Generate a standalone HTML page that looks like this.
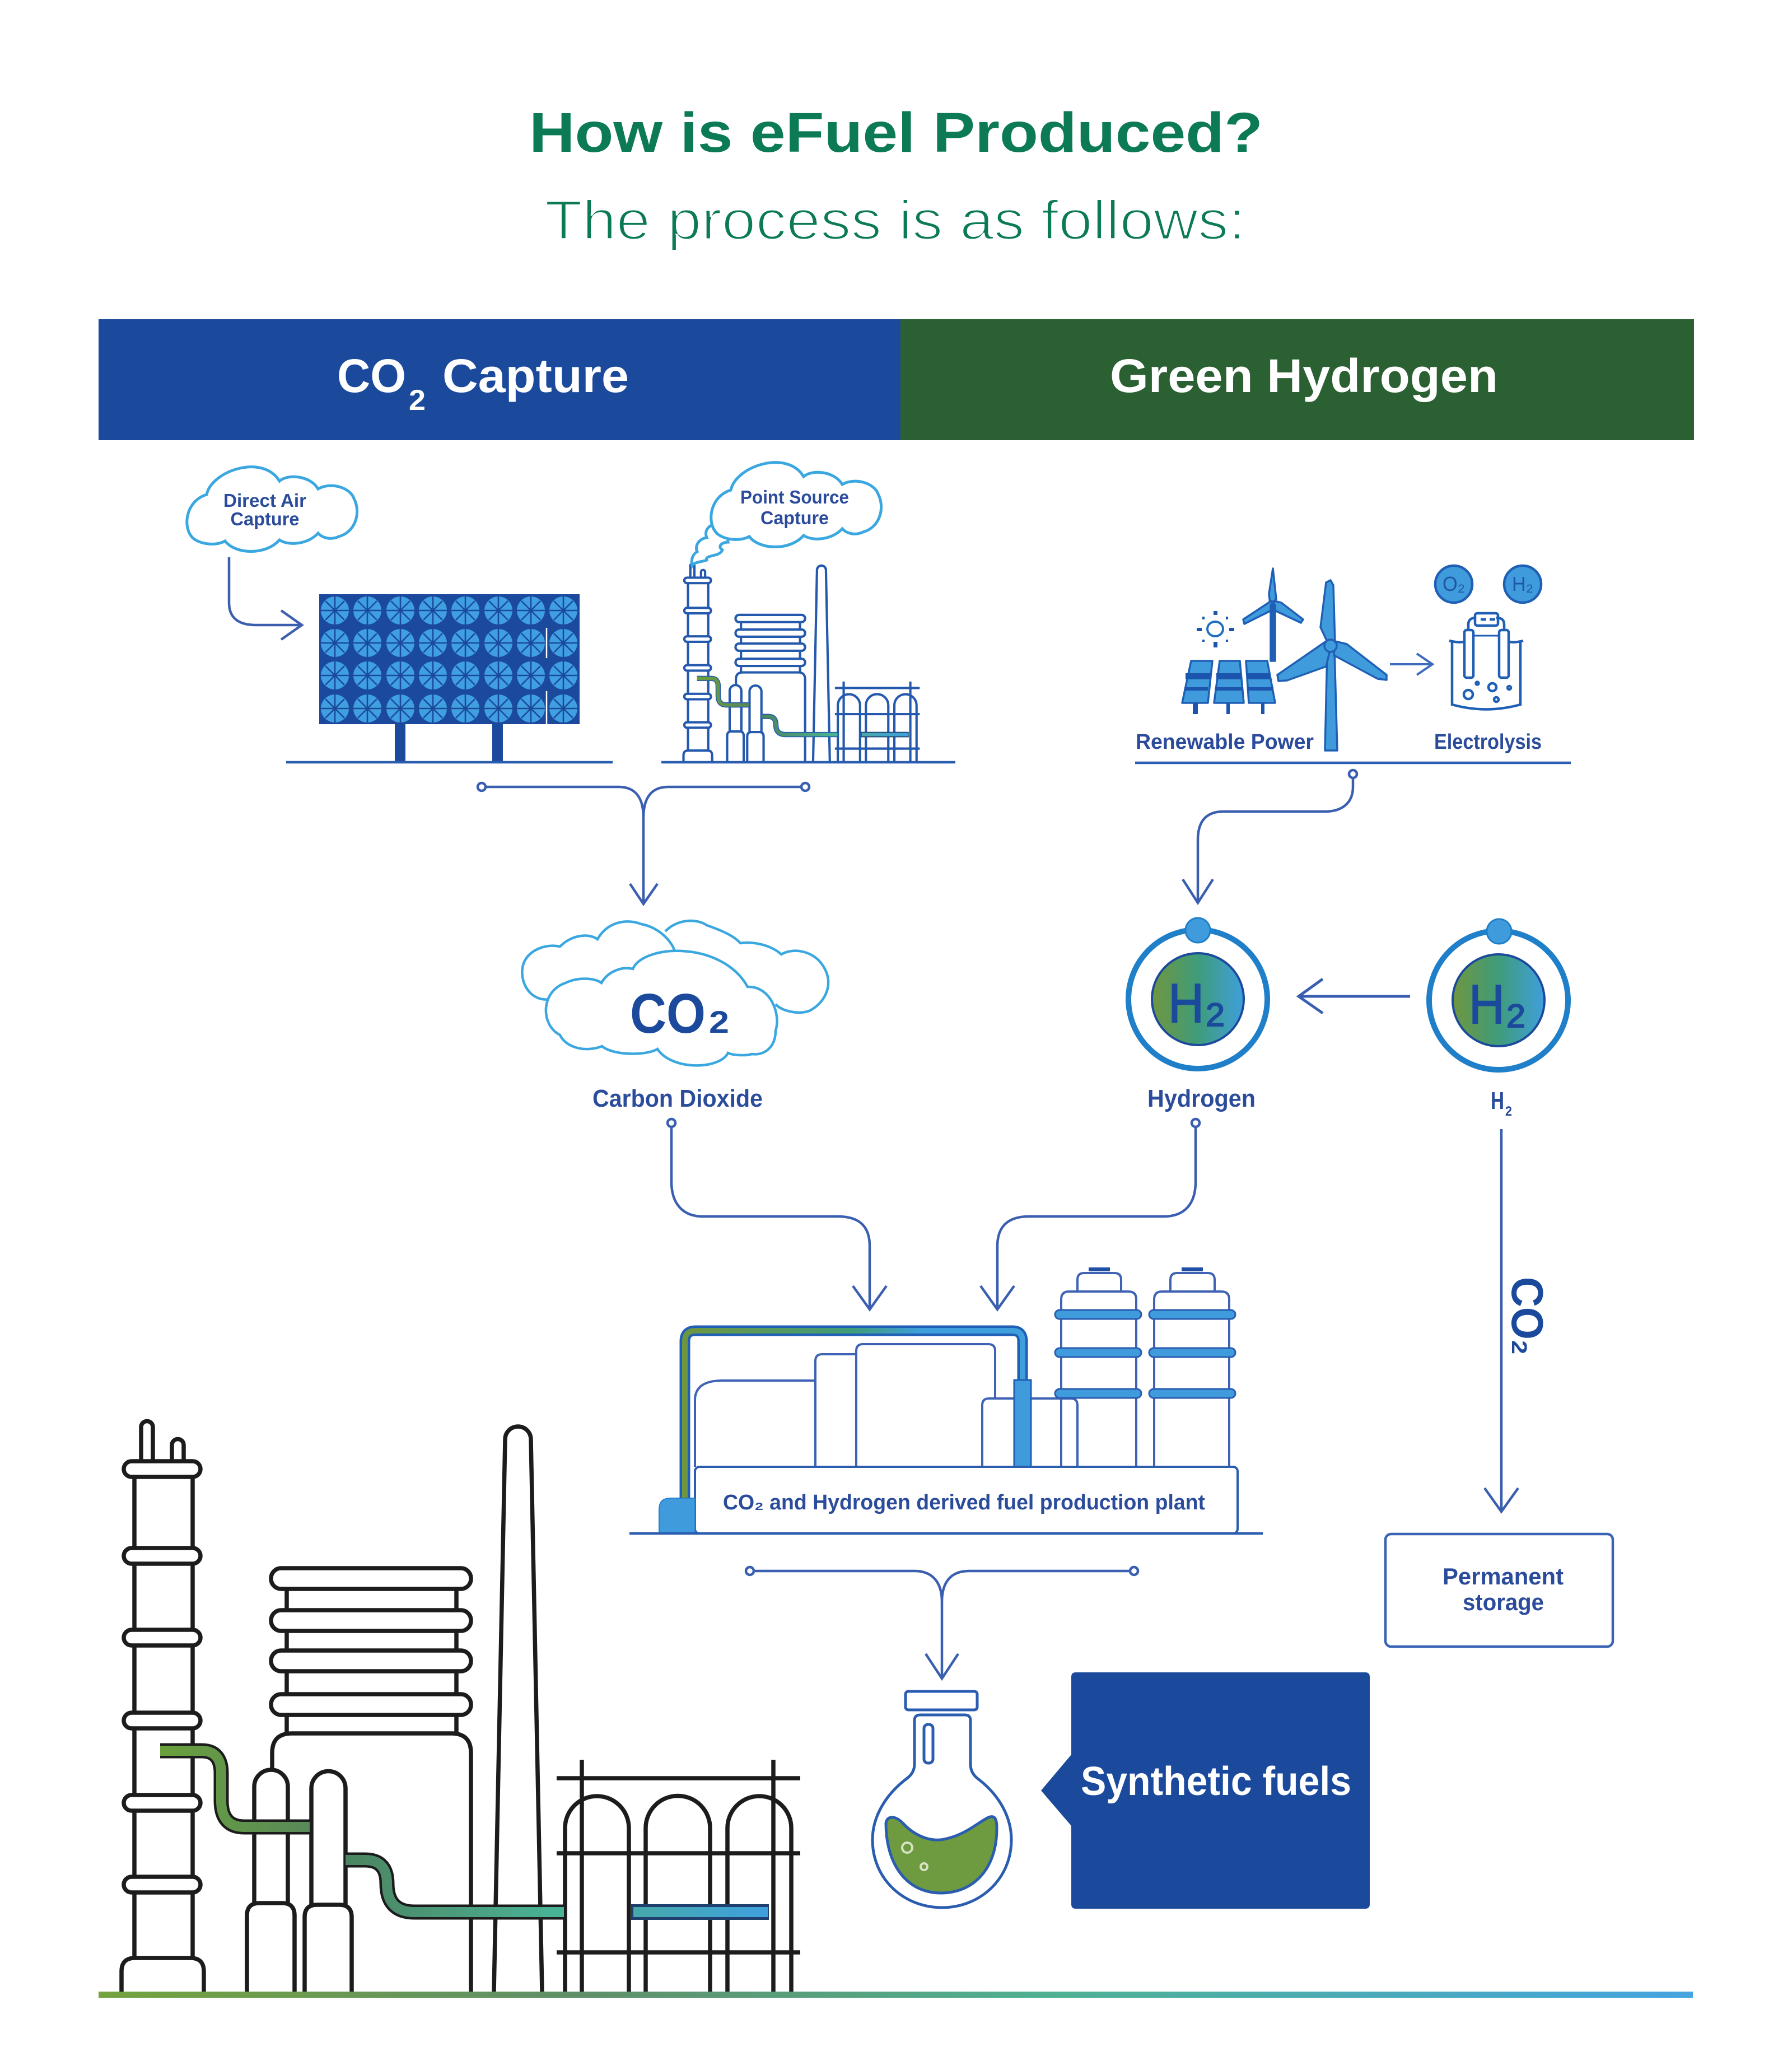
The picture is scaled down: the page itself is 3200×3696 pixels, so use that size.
<!DOCTYPE html>
<html><head><meta charset="utf-8"><title>How is eFuel Produced?</title>
<style>html,body{margin:0;padding:0;background:#fff}svg{display:block}text{font-family:"Liberation Sans",sans-serif}</style></head>
<body>
<svg xmlns="http://www.w3.org/2000/svg" width="3200" height="3696" viewBox="0 0 3200 3696">
<defs>
<linearGradient id="bar" x1="0" x2="1" y1="0" y2="0"><stop offset="0" stop-color="#74a33f"/><stop offset=".3" stop-color="#5f8f68"/><stop offset=".6" stop-color="#4fb193"/><stop offset="1" stop-color="#46a4e0"/></linearGradient>
<linearGradient id="h2g" x1="0" x2="1" y1="0" y2="0"><stop offset="0" stop-color="#6f963f"/><stop offset=".5" stop-color="#3f9c7a"/><stop offset="1" stop-color="#3f9fdc"/></linearGradient>
<linearGradient id="p1" gradientUnits="userSpaceOnUse" x1="286" x2="553" y1="0" y2="0"><stop offset="0" stop-color="#6aa03c"/><stop offset="1" stop-color="#58895a"/></linearGradient>
<linearGradient id="p2" gradientUnits="userSpaceOnUse" x1="617" x2="1007" y1="0" y2="0"><stop offset="0" stop-color="#4c8460"/><stop offset="1" stop-color="#49b498"/></linearGradient>
<linearGradient id="p3" gradientUnits="userSpaceOnUse" x1="1127" x2="1373" y1="0" y2="0"><stop offset="0" stop-color="#46a9a8"/><stop offset="1" stop-color="#3fa0e0"/></linearGradient>
<linearGradient id="pp" gradientUnits="userSpaceOnUse" x1="1215" x2="1831" y1="0" y2="0"><stop offset="0" stop-color="#6f963f"/><stop offset=".5" stop-color="#3f9c7a"/><stop offset=".7" stop-color="#3f9fdc"/></linearGradient>
<g id="fan"><circle r="25" fill="#3f9fe0"/><path d="M0-25V25M-25 0H25M-17-17L17 17M-17 17L17-17" stroke="#1b4a9c" stroke-width="2.600" fill="none"/></g>
<path id="cloud" fill="#fff" stroke="#3aa7e0" stroke-width="5" d="M369 883C378 840 470 810 499 859C515 845 555 850 568 873C590 860 625 870 632 890C645 915 635 950 605 958C590 965 575 960 568 952C550 972 515 975 499 964C475 992 420 990 402 966C385 975 360 972 346 962C325 945 330 895 369 883Z"/>
<g id="fac" fill="none">
<path d="M252 2609V2548a10.500 10.500 0 0 1 21 0V2609M307 2609V2580a10.500 10.500 0 0 1 21 0V2609"/>
<path d="M240 2637V3496M344 2637V3496"/>
<path d="M217 3556V3520Q217 3496 241 3496H340Q364 3496 364 3520V3556" />
<g fill="#fff"><rect x="221" y="2609" width="137" height="28" rx="14"/><rect x="221" y="2764" width="137" height="28" rx="14"/><rect x="221" y="2910" width="137" height="28" rx="14"/><rect x="221" y="3058" width="137" height="28" rx="14"/><rect x="221" y="3205" width="137" height="28" rx="14"/><rect x="221" y="3351" width="137" height="28" rx="14"/></g>
<path d="M512 2837V3095M815 2837V3095"/>
<path d="M486 3160V3130Q486 3095 521 3095H806Q841 3095 841 3130V3556"/>
<g fill="#fff"><rect x="484" y="2800" width="357" height="37" rx="18"/><rect x="484" y="2875" width="357" height="37" rx="18"/><rect x="484" y="2947" width="357" height="37" rx="18"/><rect x="484" y="3025" width="357" height="37" rx="18"/></g>
<path d="M882 3556L902 2570a23 23 0 0 1 46 0L968 3556"/>
<path d="M454 3398V3190a30 30 0 0 1 60 0V3398M441 3556V3420Q441 3398 463 3398H504Q526 3398 526 3420V3556"/>
<path d="M556 3401V3193a30.500 30.500 0 0 1 61 0V3401M544 3556V3423Q544 3401 566 3401H606Q628 3401 628 3423V3556"/>
<path d="M1009 3556V3264A57 57 0 0 1 1123 3264V3556M1153 3556V3264A57.500 57.500 0 0 1 1268 3264V3556M1299 3556V3264A57 57 0 0 1 1413 3264V3556"/>
<path d="M994 3175H1429M994 3309H1429M994 3486H1429M1039 3142V3556M1381 3142V3556"/>
<path d="M286 3126H360Q395 3126 395 3166V3215Q395 3262 436 3262H553" stroke-width="27"/>
<path d="M286 3126H360Q395 3126 395 3166V3215Q395 3262 436 3262H553" stroke="url(#p1)" stroke-width="18"/>
<path d="M617 3321H652Q691 3321 691 3363Q691 3414 740 3414H1007" stroke-width="27"/>
<path d="M617 3321H652Q691 3321 691 3363Q691 3414 740 3414H1007" stroke="url(#p2)" stroke-width="18"/>
<rect x="1127" y="3400" width="246" height="28" fill="#1f3f6e" stroke="none"/><rect x="1131" y="3405" width="240" height="18" fill="url(#p3)" stroke="none"/>
</g>
</defs>
<rect width="3200" height="3696" fill="#fff"/>

<!-- Titles -->
<text x="945" y="271" font-size="100" font-weight="700" fill="#0b7a55" textLength="1310" lengthAdjust="spacingAndGlyphs">How is eFuel Produced?</text>
<text x="973" y="427" font-size="98" fill="#0b7a55" stroke="#fff" stroke-width="3" textLength="1251" lengthAdjust="spacingAndGlyphs">The process is as follows:</text>

<!-- Header -->
<rect x="176" y="570" width="1432" height="216" fill="#1b4a9c"/>
<rect x="1608" y="570" width="1417" height="216" fill="#2a6032"/>
<g fill="#fff" font-weight="700">
<text x="602" y="700" font-size="84" textLength="123" lengthAdjust="spacingAndGlyphs">CO</text>
<text x="730" y="732" font-size="52" textLength="30" lengthAdjust="spacingAndGlyphs">2</text>
<text x="790" y="700" font-size="84" textLength="333" lengthAdjust="spacingAndGlyphs">Capture</text>
<text x="1982" y="700" font-size="84" textLength="693" lengthAdjust="spacingAndGlyphs">Green Hydrogen</text>
</g>

<!-- Direct air -->
<use href="#cloud"/>
<g fill="#2b4b9b" font-size="33" font-weight="700" text-anchor="middle">
<text x="473" y="905" textLength="148" lengthAdjust="spacingAndGlyphs">Direct Air</text>
<text x="473" y="938" textLength="123" lengthAdjust="spacingAndGlyphs">Capture</text>
</g>
<path d="M409 995V1076Q409 1116 457 1116H537M502 1090L539 1116L502 1142" fill="none" stroke="#3d5fb0" stroke-width="4.500"/>
<rect x="570" y="1061" width="465" height="232" fill="#1b4a9c"/>
<rect x="705" y="1293" width="19" height="68" fill="#1b4a9c"/><rect x="879" y="1293" width="19" height="68" fill="#1b4a9c"/>
<g id="fans">
<use href="#fan" x="598" y="1090"/><use href="#fan" x="656" y="1090"/><use href="#fan" x="715" y="1090"/><use href="#fan" x="773" y="1090"/><use href="#fan" x="831" y="1090"/><use href="#fan" x="890" y="1090"/><use href="#fan" x="948" y="1090"/><use href="#fan" x="1006" y="1090"/>
<use href="#fan" x="598" y="1148"/><use href="#fan" x="656" y="1148"/><use href="#fan" x="715" y="1148"/><use href="#fan" x="773" y="1148"/><use href="#fan" x="831" y="1148"/><use href="#fan" x="890" y="1148"/><use href="#fan" x="948" y="1148"/><use href="#fan" x="1006" y="1148"/>
<use href="#fan" x="598" y="1206"/><use href="#fan" x="656" y="1206"/><use href="#fan" x="715" y="1206"/><use href="#fan" x="773" y="1206"/><use href="#fan" x="831" y="1206"/><use href="#fan" x="890" y="1206"/><use href="#fan" x="948" y="1206"/><use href="#fan" x="1006" y="1206"/>
<use href="#fan" x="598" y="1265"/><use href="#fan" x="656" y="1265"/><use href="#fan" x="715" y="1265"/><use href="#fan" x="773" y="1265"/><use href="#fan" x="831" y="1265"/><use href="#fan" x="890" y="1265"/><use href="#fan" x="948" y="1265"/><use href="#fan" x="1006" y="1265"/>
</g>
<path d="M976 1121V1175M976 1234V1293" stroke="#fff" stroke-width="2.500"/>
<path d="M511 1361H1094M1181 1361H1706M2027 1362H2805" stroke="#2a5cb0" stroke-width="4.500"/>

<!-- Point source -->
<use href="#fac" transform="translate(1145 123.500) scale(.348)" stroke="#2459ad" stroke-width="12"/>
<path d="M1280 935C1262 938 1258 950 1262 960C1248 962 1240 975 1245 985C1236 990 1234 1000 1236 1010C1240 1003 1255 1003 1262 1000C1258 990 1285 995 1290 982C1280 975 1290 968 1300 968C1298 960 1310 958 1317 958Z" fill="#fff" stroke="#3aa7e0" stroke-width="5"/>
<use href="#cloud" x="936" y="-8"/>
<g fill="#2b4b9b" font-size="33" font-weight="700" text-anchor="middle">
<text x="1419" y="899" textLength="194" lengthAdjust="spacingAndGlyphs">Point Source</text>
<text x="1419" y="936" textLength="122" lengthAdjust="spacingAndGlyphs">Capture</text>
</g>

<!-- bracket 1 -->
<g fill="none" stroke="#3a5fb0" stroke-width="4.500">
<path d="M868 1405H1105C1135 1405 1149 1425 1149 1460V1612M1430 1405H1193C1163 1405 1149 1425 1149 1460M1125 1578L1149 1614L1174 1578"/>
<circle cx="860" cy="1405" r="7"/><circle cx="1438" cy="1405" r="7"/>
<circle cx="2416" cy="1382" r="7"/>
<path d="M2416 1390V1405C2416 1435 2395 1449 2366 1449H2185C2155 1449 2139 1465 2139 1500V1610M2112 1570L2139 1612L2166 1570"/>
</g>

<!-- Renewable -->
<g stroke="#1f5fb5" stroke-width="3.500" fill="#3f9bdc" stroke-linejoin="round">
<path d="M2127 1180H2165L2157 1255H2111Z"/><path d="M2178 1180H2214L2221 1255H2168Z"/><path d="M2225 1180H2263L2277 1255H2230Z"/>
</g>
<g fill="#1b55ad"><rect x="2117" y="1202" width="44" height="11"/><rect x="2172" y="1202" width="44" height="11"/><rect x="2226" y="1202" width="42" height="11"/><rect x="2115" y="1227" width="42" height="6"/><rect x="2170" y="1227" width="49" height="6"/><rect x="2228" y="1227" width="46" height="6"/>
<rect x="2130" y="1255" width="9" height="20"/><rect x="2190" y="1255" width="6" height="20"/><rect x="2252" y="1255" width="6" height="20"/>
<rect x="2167" y="1091" width="7" height="7"/><rect x="2167" y="1146" width="7" height="10"/><rect x="2137" y="1121" width="9" height="6"/><rect x="2195" y="1121" width="9" height="6"/><rect x="2147" y="1101" width="4" height="5"/><rect x="2189" y="1101" width="4" height="5"/><rect x="2147" y="1142" width="4" height="4"/><rect x="2189" y="1142" width="4" height="4"/></g>
<ellipse cx="2170" cy="1123" rx="14" ry="13" fill="none" stroke="#1f6fc0" stroke-width="4"/>
<g stroke="#1f5fb5" stroke-width="3.500" fill="#3f9bdc" stroke-linejoin="round">
<path d="M2268 1078L2266 1060L2273 1015L2279 1070Z"/><path d="M2270 1073L2220 1106L2222 1114L2274 1088Z"/><path d="M2276 1073L2288 1076L2327 1106L2323 1112L2272 1088Z"/>
<rect x="2269" y="1080" width="8" height="100" fill="#1f5fb5"/>
<path d="M2366 1340L2370 1160H2383L2388 1340Z"/>
<path d="M2372 1150L2358 1120L2368 1040L2376 1036L2381 1045L2384 1150Z"/>
<path d="M2368 1145L2281 1205L2283 1216L2298 1215L2368 1190L2374 1165Z"/>
<path d="M2384 1145L2405 1150L2476 1205L2476 1214L2460 1212L2382 1170Z"/>
<circle cx="2376" cy="1153" r="11"/>
</g>
<g fill="#2b4b9b" font-size="38" font-weight="700">
<text x="2028" y="1337" textLength="318" lengthAdjust="spacingAndGlyphs">Renewable Power</text>
<text x="2561" y="1337" textLength="192" lengthAdjust="spacingAndGlyphs">Electrolysis</text>
</g>
<path d="M2482 1186H2556M2530 1167L2558 1186L2530 1205" fill="none" stroke="#3d6abf" stroke-width="4"/>
<g fill="#3f9bdc" stroke="#1f5fb5" stroke-width="4.500"><circle cx="2596" cy="1043" r="33"/><circle cx="2719" cy="1043" r="33"/></g>
<g fill="#1f55a8" font-size="36" text-anchor="middle"><text x="2596" y="1055" textLength="40" lengthAdjust="spacingAndGlyphs">O₂</text><text x="2719" y="1055" textLength="38" lengthAdjust="spacingAndGlyphs">H₂</text></g>
<g fill="none" stroke="#1f5fb5" stroke-width="4.500">
<path d="M2593 1146V1258Q2654 1275 2715 1258V1146M2588 1144Q2605 1148 2613 1146M2696 1146Q2705 1148 2720 1144"/>
<rect x="2615" y="1125" width="16" height="85" rx="4"/><rect x="2677" y="1125" width="17" height="85" rx="4"/>
<path d="M2622 1125V1115Q2622 1103 2636 1103M2686 1125V1115Q2686 1103 2672 1103"/>
<rect x="2634" y="1095" width="41" height="22" rx="4"/>
<path d="M2644 1106H2654M2660 1106H2670"/>
<path d="M2631 1135H2677" stroke-width="3"/>
<circle cx="2622" cy="1240" r="8"/><circle cx="2665" cy="1227" r="7"/><circle cx="2695" cy="1228" r="3"/><circle cx="2672" cy="1249" r="4"/><circle cx="2638" cy="1220" r="2.500"/>
</g>

<!-- CO2 clouds -->
<g fill="none" stroke="#3aa7e0" stroke-width="4.500">
<path d="M983 1784C945 1790 925 1750 935 1720C945 1695 975 1685 1000 1690C1020 1670 1050 1665 1067 1677C1085 1645 1120 1640 1145 1650C1175 1655 1200 1680 1205 1699"/>
<path d="M1188 1663C1210 1640 1245 1640 1262 1652C1285 1660 1310 1670 1322 1684C1350 1680 1380 1690 1395 1704C1420 1690 1455 1700 1470 1725C1490 1755 1475 1790 1445 1805C1425 1812 1395 1805 1385 1793"/>
<path fill="#fff" d="M1000 1848C965 1830 965 1770 1010 1755C1030 1745 1060 1745 1074 1755C1085 1735 1110 1725 1130 1730C1150 1685 1290 1680 1335 1762C1375 1760 1395 1810 1385 1840C1385 1870 1365 1885 1342 1882C1335 1885 1310 1885 1300 1880C1285 1910 1200 1912 1174 1873C1155 1885 1095 1885 1075 1868C1045 1880 1010 1870 1000 1848Z"/>
</g>
<text x="1125" y="1844" font-size="100" font-weight="700" fill="#1b4a9c" textLength="135" lengthAdjust="spacingAndGlyphs">CO</text>
<text x="1266" y="1844" font-size="56" font-weight="700" fill="#1b4a9c" textLength="36" lengthAdjust="spacingAndGlyphs">2</text>
<g fill="#2b4b9b" font-size="44" font-weight="700">
<text x="1058" y="1976" textLength="304" lengthAdjust="spacingAndGlyphs">Carbon Dioxide</text>
<text x="2049" y="1976" textLength="193" lengthAdjust="spacingAndGlyphs">Hydrogen</text>
<text x="2662" y="1980" textLength="24" lengthAdjust="spacingAndGlyphs">H</text>
<text x="2688" y="1992" font-size="24" textLength="12" lengthAdjust="spacingAndGlyphs">2</text>
</g>

<!-- H2 atoms -->
<g>
<circle cx="2139" cy="1784" r="124" fill="#fff" stroke="#1f7fc9" stroke-width="10"/>
<circle cx="2139" cy="1784" r="82" fill="url(#h2g)" stroke="#1b4a9c" stroke-width="4"/>
<circle cx="2139" cy="1661" r="22" fill="#3f9bdc" stroke="#1f7fc9" stroke-width="3"/>
<text x="2086" y="1825" font-size="98" fill="#1b4a9c" stroke="#1b4a9c" stroke-width="2" textLength="64" lengthAdjust="spacingAndGlyphs">H</text>
<text x="2153" y="1832" font-size="58" fill="#1b4a9c" stroke="#1b4a9c" stroke-width="2" textLength="34" lengthAdjust="spacingAndGlyphs">2</text>
<circle cx="2676" cy="1786" r="124" fill="#fff" stroke="#1f7fc9" stroke-width="10"/>
<circle cx="2676" cy="1786" r="82" fill="url(#h2g)" stroke="#1b4a9c" stroke-width="4"/>
<circle cx="2677" cy="1663" r="22" fill="#3f9bdc" stroke="#1f7fc9" stroke-width="3"/>
<text x="2623" y="1827" font-size="98" fill="#1b4a9c" stroke="#1b4a9c" stroke-width="2" textLength="64" lengthAdjust="spacingAndGlyphs">H</text>
<text x="2690" y="1834" font-size="58" fill="#1b4a9c" stroke="#1b4a9c" stroke-width="2" textLength="34" lengthAdjust="spacingAndGlyphs">2</text>
</g>
<g fill="none" stroke="#3a5fb0" stroke-width="4.500">
<path d="M2518 1779H2322M2362 1748L2319 1779L2362 1809" stroke-width="5"/>
<circle cx="1199" cy="2005" r="7"/><circle cx="2135" cy="2005" r="7"/>
<path d="M1199 2013V2110C1199 2150 1220 2172 1255 2172H1496C1535 2172 1553 2190 1553 2225V2336M1523 2296L1553 2338L1583 2296"/>
<path d="M2135 2013V2110C2135 2150 2115 2172 2078 2172H1837C1800 2172 1781 2190 1781 2225V2336M1751 2296L1781 2338L1811 2296"/>
<path d="M2681 2016V2697M2651 2657L2681 2699L2711 2657"/>
</g>
<text transform="translate(2700 2280) rotate(90)" font-size="80" font-weight="700" fill="#1b4a9c" textLength="112" lengthAdjust="spacingAndGlyphs">CO</text>
<text transform="translate(2700 2393) rotate(90)" font-size="38" font-weight="700" fill="#1b4a9c" textLength="25" lengthAdjust="spacingAndGlyphs">2</text>

<!-- Plant -->
<g fill="none" stroke="#3f62b5" stroke-width="4">
<path d="M1241 2619V2500Q1241 2465 1290 2465H1456M1456 2619V2430Q1456 2418 1468 2418H1529M1529 2619V2412Q1529 2400 1541 2400H1765Q1777 2400 1777 2412V2497"/>
<path d="M1754 2619V2509Q1754 2497 1766 2497H1912Q1924 2497 1924 2509V2619"/>
<path d="M1895 2619V2320Q1895 2306 1909 2306H2015Q2029 2306 2029 2320V2619M1924 2306V2285Q1924 2273 1936 2273H1990Q2002 2273 2002 2285V2306"/>
<path d="M2061 2619V2320Q2061 2306 2075 2306H2181Q2195 2306 2195 2320V2619M2090 2306V2285Q2090 2273 2102 2273H2157Q2169 2273 2169 2285V2306"/>
</g>
<g fill="#1f4fa5"><rect x="1944" y="2263" width="38" height="7"/><rect x="2110" y="2263" width="38" height="7"/></g>
<g fill="#3f9bdc" stroke="#2a5cb0" stroke-width="3">
<rect x="1884" y="2339" width="154" height="16" rx="8"/><rect x="1884" y="2407" width="154" height="16" rx="8"/><rect x="1884" y="2480" width="154" height="16" rx="8"/>
<rect x="2052" y="2339" width="154" height="16" rx="8"/><rect x="2052" y="2407" width="154" height="16" rx="8"/><rect x="2052" y="2480" width="154" height="16" rx="8"/>
</g>
<path d="M1223 2680V2395Q1223 2376 1242 2376H1808Q1826 2376 1826 2395V2466" fill="none" stroke="#1f5fb5" stroke-width="19"/>
<path d="M1223 2680V2395Q1223 2376 1242 2376H1808Q1826 2376 1826 2395V2466" fill="none" stroke="url(#pp)" stroke-width="10"/>
<rect x="1811" y="2464" width="30" height="155" fill="#3f9bdc" stroke="#1f5fb5" stroke-width="3"/>
<rect x="1241" y="2619" width="969" height="119" rx="8" fill="#fff" stroke="#2a5cb0" stroke-width="4"/>
<path d="M1177 2738V2695Q1177 2675 1197 2675H1241V2738Z" fill="#3f9bdc" stroke="#2a7fcf" stroke-width="2"/>
<path d="M1124 2738H2255" stroke="#2a5cb0" stroke-width="4.500"/>
<text x="1291" y="2695" font-size="38" font-weight="700" fill="#2b4b9b" textLength="861" lengthAdjust="spacingAndGlyphs">CO₂ and Hydrogen derived fuel production plant</text>

<!-- Storage -->
<rect x="2474" y="2739" width="406" height="201" rx="10" fill="#fff" stroke="#3a62b5" stroke-width="4.500"/>
<g fill="#2b4b9b" font-size="42" font-weight="700">
<text x="2576" y="2829" textLength="216" lengthAdjust="spacingAndGlyphs">Permanent</text>
<text x="2612" y="2875" textLength="145" lengthAdjust="spacingAndGlyphs">storage</text>
</g>

<!-- bracket 2 -->
<g fill="none" stroke="#3a5fb0" stroke-width="4.500">
<circle cx="1339" cy="2805" r="7"/><circle cx="2025" cy="2805" r="7"/>
<path d="M1347 2805H1633C1665 2805 1682 2825 1682 2860V2995M2017 2805H1730C1698 2805 1682 2825 1682 2860M1653 2953L1682 2997L1711 2953"/>
</g>

<!-- Flask -->
<g fill="none" stroke="#2a5cb0" stroke-width="5">
<rect x="1617" y="3020" width="128" height="33" rx="5"/>
<path d="M1633 3150V3072Q1633 3062 1643 3062H1723Q1733 3062 1733 3072V3150Q1733 3165 1745 3175C1785 3205 1806 3245 1806 3285C1806 3355 1750 3406 1682 3406C1614 3406 1558 3355 1558 3285C1558 3245 1580 3205 1620 3175Q1633 3165 1633 3150Z"/>
<rect x="1650" y="3079" width="16" height="69" rx="7"/>
<path fill="#6e9a40" d="M1582 3255C1585 3240 1600 3243 1612 3255C1635 3280 1665 3290 1690 3283C1725 3275 1745 3255 1765 3245C1778 3240 1780 3250 1780 3265C1780 3335 1740 3380 1680 3380C1620 3380 1582 3330 1582 3255Z"/>
</g>
<g fill="none" stroke="#d7e2c4" stroke-width="4"><circle cx="1620" cy="3299" r="9"/><circle cx="1650" cy="3333" r="6"/></g>

<!-- Synthetic fuels -->
<path d="M1921 2986H2438Q2446 2986 2446 2994V3400Q2446 3408 2438 3408H1921Q1913 3408 1913 3400V3260L1859 3197L1913 3133V2994Q1913 2986 1921 2986Z" fill="#1b4a9c"/>
<text x="1930" y="3205" font-size="72" font-weight="700" fill="#fff" textLength="483" lengthAdjust="spacingAndGlyphs">Synthetic fuels</text>

<!-- Big factory -->
<use href="#fac" stroke="#1c1c1c" stroke-width="7.500"/>
<rect x="176" y="3556" width="2847" height="11" fill="url(#bar)"/>
</svg>
</body></html>
